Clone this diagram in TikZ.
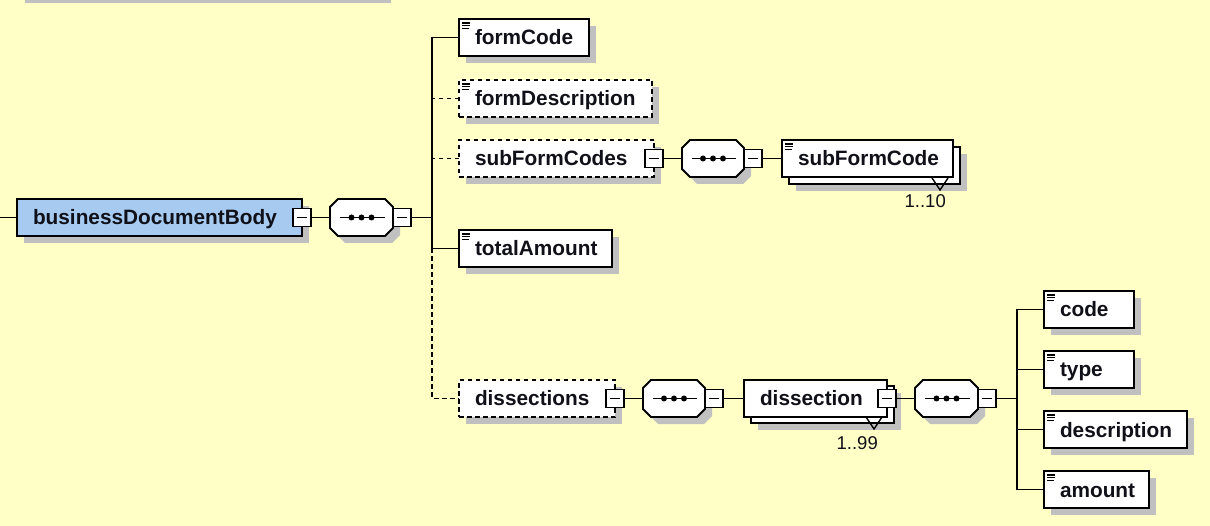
\documentclass[tikz,border=0pt]{standalone}
\usepackage{fontspec}
\setmainfont{Liberation Sans}
\usetikzlibrary{calc}
\definecolor{bg}{HTML}{FFFFC6}
\definecolor{shgrey}{HTML}{C0C0C0}
\definecolor{blu}{HTML}{A6CAF0}
\definecolor{txt}{HTML}{101018}
\newcommand\octpath[1]{([xshift=8pt]#1.north west) -- ([xshift=-8pt]#1.north east) -- ([yshift=-8pt]#1.north east) -- ([yshift=8pt]#1.south east) -- ([xshift=-8pt]#1.south east) -- ([xshift=8pt]#1.south west) -- ([yshift=8pt]#1.south west) -- ([yshift=-8pt]#1.north west) -- cycle}
\newcommand\drawseq[1]{%
 \fill[shgrey, transform canvas={shift={(7pt,-7pt)}}] \octpath{#1};
 \draw[line width=1.9pt, fill=white] \octpath{#1};
 \draw[line width=1.8pt] ([xshift=10pt]#1.west) -- ([xshift=-8pt]#1.east);
 \fill ([xshift=-10pt]#1.center) circle (3pt) (#1.center) circle (3pt) ([xshift=10pt]#1.center) circle (3pt);
}
\tikzset{
 shad/.style={preaction={fill=shgrey, transform canvas={shift={(7pt,-7pt)}}}},
 frontbox/.style={draw=black, line width=1.9pt, fill=white, rectangle, inner xsep=16pt, inner ysep=11pt, outer sep=0pt, text height=15pt, text depth=0pt, align=left, anchor=north west, font=\bfseries\fontsize{20.8pt}{24pt}\selectfont, text=txt},
 elem/.style={shad, frontbox},
 opt/.style={dash pattern=on 4.5pt off 3.5pt},
 doc/.style={path picture={\draw[line width=1.3pt, solid, black] ([shift={(3pt,-4pt)}]path picture bounding box.north west) -- ++(8pt,0pt) ([shift={(3pt,-6.7pt)}]path picture bounding box.north west) -- ++(8pt,0pt) ([shift={(3pt,-9.4pt)}]path picture bounding box.north west) -- ++(7pt,0pt);}},
 seqbase/.style={rectangle, minimum width=#1, minimum height=37pt, inner sep=0pt, outer sep=0pt, anchor=north west},
 mbox/.style={draw=black, fill=white, line width=1.7pt, rectangle, minimum width=18pt, minimum height=18pt, inner sep=0pt, outer sep=0pt, solid, path picture={\draw[line width=1.9pt, solid, black] ([xshift=4pt]path picture bounding box.west) -- ([xshift=-4pt]path picture bounding box.east);}},
 mult/.style={font=\fontsize{18.5pt}{22pt}\selectfont, inner sep=0pt, text=txt},
 conn/.style={line width=1.9pt, draw=black},
 notch/.style={line width=1.4pt, draw=black},
}
\begin{document}
\begin{tikzpicture}[x=1pt,y=-1pt]
\useasboundingbox (0,0) rectangle (1210,526);
\fill[bg] (0,0) rectangle (1210,526);
\fill[shgrey] (25,0) rectangle (391,3);

% root
\coordinate (lstart) at (0,217.5);
\node[elem, fill=blu, text width=253pt] (bdb) at (17,199) {businessDocumentBody};
\node[mbox] (bdbm) at (bdb.east) {};

% sequence 1
\node[seqbase=63pt] (seq1) at (330,199) {};
\drawseq{seq1}
\node[mbox, anchor=west] (seq1m) at (seq1.east) {};
\coordinate (t1) at (432,217.5);

% children
\node[elem, doc, text width=98pt] (formCode) at (459,19) {formCode};
\node[elem, doc, opt, text width=161pt] (formDescription) at (459,80) {formDescription};
\node[elem, opt, text width=163pt] (subFormCodes) at (459,140) {subFormCodes};
\node[mbox] (subFormCodesm) at (subFormCodes.east) {};
\node[elem, doc, text width=121pt] (totalAmount) at (459,230) {totalAmount};
\node[elem, opt, text width=124pt] (dissections) at (459,380) {dissections};
\node[mbox] (dissectionsm) at (dissections.east) {};

% subFormCodes branch
\node[seqbase=62pt] (seq2) at (682,140) {};
\drawseq{seq2}
\node[mbox, anchor=west] (seq2m) at (seq2.east) {};
\node[elem, text width=139pt] (sfcback) at (789,147) {};
\node[frontbox, doc, text width=139pt] (subFormCode) at (782,140) {subFormCode};
\draw[notch] ([xshift=-28pt,yshift=6pt]sfcback.south east) -- ([xshift=-20pt,yshift=-6pt]sfcback.south east) -- ([xshift=-12pt,yshift=6pt]sfcback.south east);
\node[mult, anchor=base east] (mult1) at (946,208) {1..10};

% dissections branch
\node[seqbase=62pt] (seq3) at (643,380) {};
\drawseq{seq3}
\node[mbox, anchor=west] (seq3m) at (seq3.east) {};
\node[elem, text width=111pt] (dissback) at (751,386) {};
\node[frontbox, text width=111pt] (dissection) at (744,380) {dissection};
\node[mbox] (dissectionm) at (dissection.east) {};
\draw[notch] ([xshift=-28pt,yshift=6pt]dissback.south east) -- ([xshift=-20pt,yshift=-6pt]dissback.south east) -- ([xshift=-12pt,yshift=6pt]dissback.south east);
\node[mult, anchor=base east] (mult2) at (878,449) {1..99};

\node[seqbase=63pt] (seq4) at (915,380) {};
\drawseq{seq4}
\node[mbox, anchor=west] (seq4m) at (seq4.east) {};
\coordinate (t2) at (1017,398.5);

\node[elem, doc, text width=58pt] (code) at (1044,291) {code};
\node[elem, doc, text width=58pt] (type) at (1044,351) {type};
\node[elem, doc, text width=111pt] (description) at (1044,411) {description};
\node[elem, doc, text width=73pt] (amount) at (1044,471) {amount};

% connectors
\draw[conn] (lstart) -- (bdb.west);
\draw[conn] (bdbm.east) -- (seq1.west);
\draw[conn] (seq1m.east) -- (t1);
\draw[conn] (formCode.west) -| (t1) |- (totalAmount.west);
\draw[conn, opt] (formDescription.west) -- (formDescription.west -| t1);
\draw[conn, opt] (subFormCodes.west) -- (subFormCodes.west -| t1);
\draw[conn, opt] (totalAmount.west -| t1) |- (dissections.west);
\draw[conn] (subFormCodesm.east) -- (seq2.west);
\draw[conn] (seq2m.east) -- (subFormCode.west);
\draw[conn] (dissectionsm.east) -- (seq3.west);
\draw[conn] (seq3m.east) -- (dissection.west);
\draw[conn] (dissectionm.east) -- (seq4.west);
\draw[conn] (seq4m.east) -- (t2);
\draw[conn] (code.west) -| (t2) |- (amount.west);
\draw[conn] (type.west -| t2) -- (type.west);
\draw[conn] (description.west -| t2) -- (description.west);
\end{tikzpicture}
\end{document}
